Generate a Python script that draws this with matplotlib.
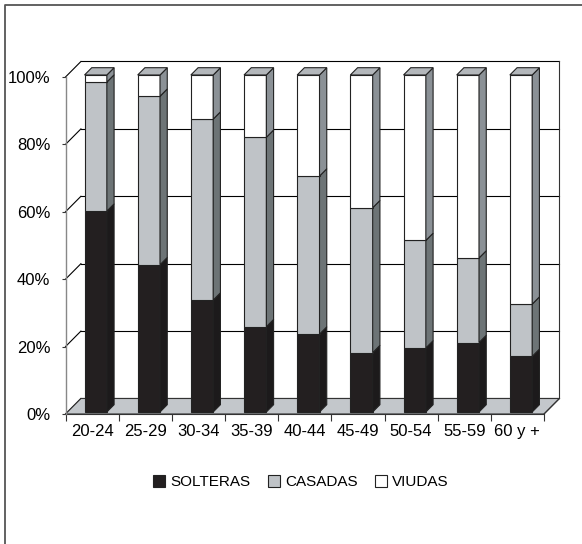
import matplotlib
matplotlib.use("Agg")
import matplotlib.pyplot as plt
from matplotlib.patches import Polygon, Patch
from matplotlib.lines import Line2D

plt.rcParams['font.family'] = ['Liberation Sans', 'DejaVu Sans']

# estado civil de las mujeres por grupo de edad (%)
grupos = ['20-24', '25-29', '30-34', '35-39', '40-44', '45-49', '50-54', '55-59', '60 y +']
solteras = [59.6, 43.7, 33.2, 25.3, 23.1, 17.6, 19.0, 20.6, 16.5]
casadas = [38.3, 50.0, 53.7, 56.2, 46.9, 43.0, 31.9, 25.1, 15.5]
viudas = [2.1, 6.3, 13.1, 18.5, 30.0, 39.4, 49.1, 54.3, 68.0]
series = ['SOLTERAS', 'CASADAS', 'VIUDAS']
yticks = [0, 20, 40, 60, 80, 100]

frente = ['#231f20', '#bfc3c7', '#ffffff']
lado = ['#1c1a1b', '#6d7476', '#8b9196']
techo = '#b3b7bb'
piso = '#c3c7cb'

W, H = 582, 544
fig = plt.figure(figsize=(W / 100, H / 100), dpi=100)
ax = fig.add_axes([65.5 / W, 1 - 414 / H, (544 - 65.5) / W, (414 - 77) / H])
ax.set_xlim(0, len(grupos))
ax.set_ylim(0, 100)

# profundidad del efecto 3D en unidades de datos
DX, DY = 0.29, 4.6
n = len(grupos)

# piso
ax.add_patch(Polygon([(0, 0), (n, 0), (n + DX, DY), (DX, DY)], closed=True,
                     facecolor=piso, edgecolor='#333333', lw=0.8, zorder=1, clip_on=False))

# pared del fondo: lineas de division y diagonales del eje
for t in yticks:
    ax.plot([DX, n + DX], [t + DY, t + DY], color='black', lw=0.8, zorder=0.5, clip_on=False)
    ax.plot([0, DX], [t, t + DY], color='black', lw=0.8, zorder=0.5, clip_on=False)
ax.plot([n + DX, n + DX], [DY, 100 + DY], color='#333333', lw=0.8, zorder=0.5, clip_on=False)
ax.plot([n, n + DX], [0, DY], color='#333333', lw=0.8, zorder=1.5, clip_on=False)

# barras apiladas con caras frontal, lateral y superior
f0, f1 = 0.13, 0.6
ancho = 0.42
for i in range(n):
    base = 0
    vals = [solteras[i], casadas[i], viudas[i]]
    for k, v in enumerate(vals):
        lo, hi = base, base + v
        x0 = i + 0.32 + f0 * DX
        x1 = x0 + ancho
        ddx = (f1 - f0) * DX
        ddy = (f1 - f0) * DY
        y0 = lo + f0 * DY
        y1 = hi + f0 * DY
        ax.add_patch(Polygon([(x0, y0), (x1, y0), (x1, y1), (x0, y1)], closed=True,
                             facecolor=frente[k], edgecolor='#222222', lw=0.8, zorder=3, clip_on=False))
        ax.add_patch(Polygon([(x1, y0), (x1 + ddx, y0 + ddy), (x1 + ddx, y1 + ddy), (x1, y1)],
                             closed=True, facecolor=lado[k], edgecolor='#222222', lw=0.8,
                             zorder=3, clip_on=False))
        if k == len(vals) - 1:
            ax.add_patch(Polygon([(x0, y1), (x1, y1), (x1 + ddx, y1 + ddy), (x0 + ddx, y1 + ddy)],
                                 closed=True, facecolor=techo, edgecolor='#222222', lw=0.8,
                                 zorder=3, clip_on=False))
        base = hi

# ejes
for s in ['top', 'right']:
    ax.spines[s].set_visible(False)
ax.spines['left'].set_color('#888888')
ax.spines['left'].set_linewidth(1.0)
ax.spines['bottom'].set_color('#333333')
ax.spines['bottom'].set_linewidth(0.8)
ax.spines['bottom'].set_zorder(2)
ax.set_facecolor('none')

ax.set_yticks(yticks)
ax.set_yticklabels([f'{t}%' for t in yticks], fontsize=12)
ax.tick_params(axis='y', length=3, width=0.8, pad=8, color='#333333')

ax.set_xticks(range(n + 1))
ax.set_xticklabels([])
ax.set_xticks([i + 0.5 for i in range(n)], minor=True)
ax.set_xticklabels(grupos, minor=True, fontsize=12)
ax.tick_params(axis='x', which='major', length=5, width=0.8, color='#333333')
ax.tick_params(axis='x', which='minor', length=0, pad=7)

# leyenda
handles = [Patch(facecolor=frente[k], edgecolor='#222222', lw=0.8, label=series[k]) for k in range(3)]
fig.legend(handles=handles, loc='center', bbox_to_anchor=(301 / W, 1 - 482 / H), ncol=3,
           frameon=False, fontsize=11, handlelength=0.8, handleheight=0.8,
           handletextpad=0.35, columnspacing=1.1)

# marco exterior
fig.add_artist(Line2D([5 / W, 5 / W, 1], [0, 1 - 4.5 / H, 1 - 4.5 / H],
                      transform=fig.transFigure, color='#555555', lw=1.3))

fig.savefig('out.png', dpi=100)
